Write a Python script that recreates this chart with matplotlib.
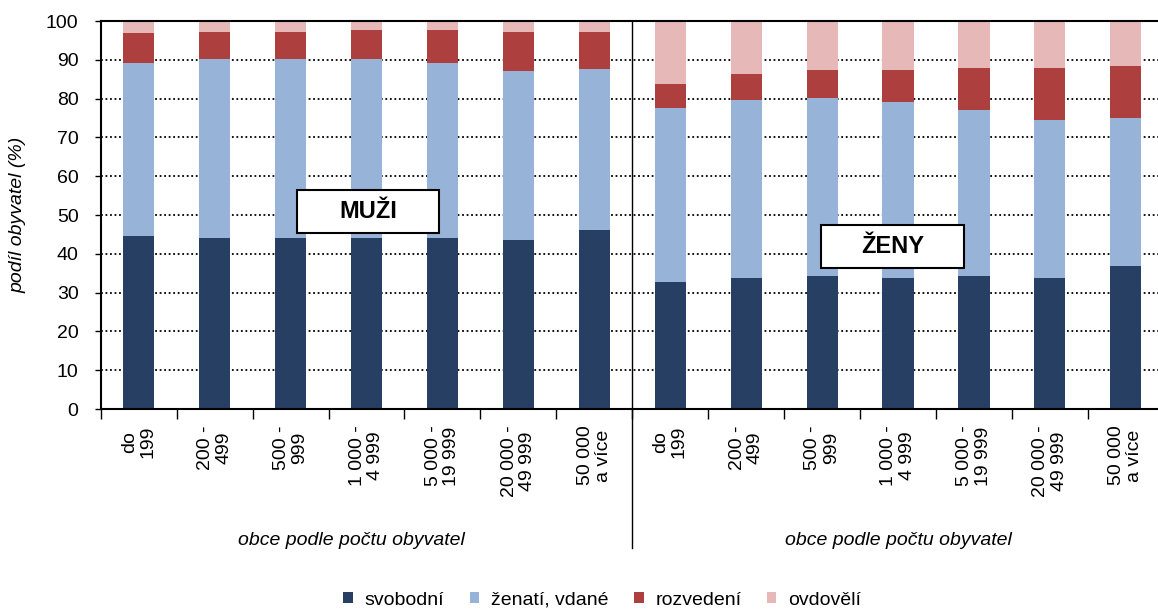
import numpy as np
import matplotlib.pyplot as plt
from matplotlib.patches import Rectangle
from matplotlib.transforms import blended_transform_factory

plt.rcParams['font.family'] = ['Liberation Sans', 'DejaVu Sans']

groups = ["do\n199", "200 -\n499", "500 -\n999", "1 000 -\n4 999",
          "5 000 -\n19 999", "20 000 -\n49 999", "50 000\na více"]
tick_labels = groups + groups
series = ["svobodní", "ženatí, vdané", "rozvedení", "ovdovělí"]
colors = ["#263F62", "#97B4D8", "#AE3F3F", "#E7B8B8"]

# cumulative tops: muži then ženy
svobodni = [44.7, 44.2, 44.2, 44.2, 44.2, 43.6, 46.2,
            32.8, 33.8, 34.3, 33.8, 34.3, 33.8, 36.9]
do_zenati = [89.2, 90.3, 90.3, 90.3, 89.2, 87.2, 87.7,
             77.6, 79.7, 80.2, 79.2, 77.1, 74.5, 75.0]
do_rozvedeni = [96.8, 97.3, 97.3, 97.8, 97.8, 97.3, 97.3,
                83.7, 86.3, 87.3, 87.3, 87.8, 87.8, 88.3]

sv = np.array(svobodni)
ze = np.array(do_zenati) - sv
ro = np.array(do_rozvedeni) - np.array(do_zenati)
ov = 100 - np.array(do_rozvedeni)
values = [sv, ze, ro, ov]

fig = plt.figure(figsize=(11.58, 6.10), dpi=100)
ax = fig.add_axes([0.087, 0.3295, 0.918, 0.636])

x = np.arange(len(tick_labels))
bottom = np.zeros(len(x))
for vals, name, col in zip(values, series, colors):
    ax.bar(x, vals, width=0.41, bottom=bottom, color=col, label=name, zorder=2)
    bottom += vals

ax.set_xlim(-0.5, 13.5)
ax.set_ylim(0, 100)
ax.set_yticks(range(0, 101, 10))
ax.tick_params(axis='y', labelsize=14, direction='out', length=4, width=1, pad=12)
ax.set_xticks(x)
ax.set_xticklabels(tick_labels, rotation=90, fontsize=14, ha='center', va='top',
                   multialignment='center', linespacing=1.1)
ax.tick_params(axis='x', length=0, pad=12)
ax.set_xticks(np.arange(-0.5, 14, 1), minor=True)
ax.tick_params(axis='x', which='minor', length=7, width=1, direction='out')

ax.yaxis.grid(True, linestyle=(0, (1, 1.5)), color='black', linewidth=1.3, zorder=1)
ax.set_axisbelow(True)
for s in ['left', 'bottom', 'top']:
    ax.spines[s].set_linewidth(1.5)
ax.spines['right'].set_visible(False)

ax.set_ylabel("podíl obyvatel (%)", fontsize=14, style='italic', va='center')
ax.yaxis.set_label_coords(-0.078, 0.5)

trans = blended_transform_factory(ax.transData, ax.transAxes)
ax.plot([6.5, 6.5], [1, -0.358], color='black', linewidth=1, transform=trans,
        clip_on=False, zorder=3)

ax.text(2.8, -0.34, "obce podle počtu obyvatel", transform=trans, fontsize=14,
        style='italic', ha='center', va='center')
ax.text(10.0, -0.34, "obce podle počtu obyvatel", transform=trans, fontsize=14,
        style='italic', ha='center', va='center')

for cx, cy, txt in [(3.02, 50.9, "MUŽI"), (9.93, 42.0, "ŽENY")]:
    ax.add_patch(Rectangle((cx - 0.94, cy - 5.55), 1.88, 11.1, facecolor='white',
                           edgecolor='black', linewidth=1.5, zorder=4))
    ax.text(cx, cy, txt, fontsize=17, fontweight='bold', ha='center', va='center',
            zorder=5)

fig.legend(loc='center', bbox_to_anchor=(0.52, 0.016), ncol=4, frameon=False,
           fontsize=14, handlelength=0.5, handleheight=0.5, handletextpad=0.6,
           columnspacing=1.3)

fig.savefig("out.png", dpi=100)
